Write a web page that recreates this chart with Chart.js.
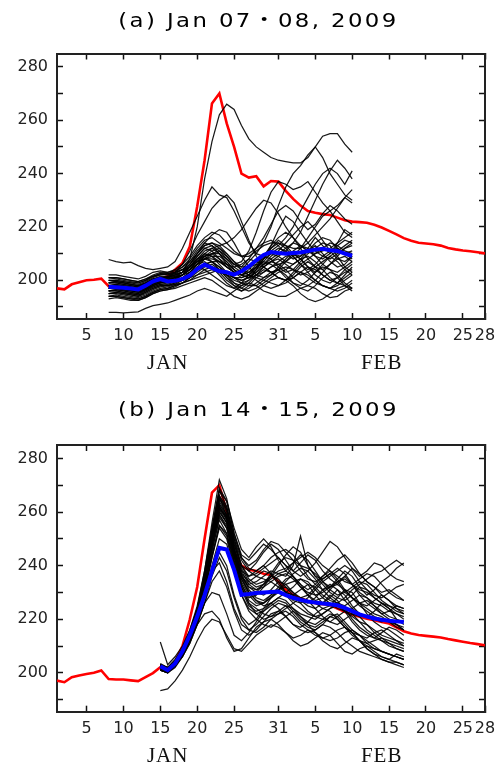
<!DOCTYPE html>
<html>
<head>
<meta charset="utf-8">
<script src="https://cdn.jsdelivr.net/npm/chart.js@4.4.1/dist/chart.umd.min.js"></script>
<style>
  body { margin: 0; background: #fff; }
  canvas { display: block; }
</style>
</head>
<body>
<canvas id="chart-a" width="499" height="375"></canvas>
<canvas id="chart-b" width="499" height="389"></canvas>
<script>
// day numbers count from Jan 1 (= 1), Feb 28 = 59
const titles = ['(a) Jan 07・08, 2009', '(b) Jan 14・15, 2009'];

const xTickDays = [5, 10, 15, 20, 25, 31, 36, 41, 46, 51, 56, 59];
const xTickLabels = ['5', '10', '15', '20', '25', '31', '5', '10', '15', '20', '25', '28'];
const yTickValues = [190, 200, 210, 220, 230, 240, 250, 260, 270, 280];
const yLabelValues = [200, 220, 240, 260, 280];
const monthNames = ['JAN', 'FEB'];
const monthDays = [16, 45];

const analysisStart = 1;
const forecastStartA = 8;
const forecastStartB = 15;

// red line: analysis, Jan 1 .. Feb 28
const analysisA = [
  197.0, 196.6, 198.5, 199.3, 200.0, 200.2, 200.6, 197.8, 197.5, 197.2,
  197.0, 196.8, 198.5, 200.0, 200.5, 201.5, 204.0, 206.5, 212.7, 227.7,
  245.0, 266.3, 270.0, 258.8, 250.0, 240.0, 238.5, 239.0, 235.2, 237.2,
  237.0, 233.5, 230.5, 228.0, 226.0, 225.3, 224.8, 224.5, 223.5, 222.5,
  222.0, 221.8, 221.6, 220.8, 219.8, 218.5, 217.2, 215.8, 214.8, 214.1,
  213.8, 213.5, 213.0, 212.1, 211.6, 211.2, 210.9, 210.5, 210.1
];
const analysisB = [
  197.1, 196.5, 198.4, 199.0, 199.6, 200.0, 200.9, 197.7, 197.5, 197.5,
  197.2, 196.9, 198.4, 199.9, 202.1, 201.0, 204.0, 210.0, 220.0, 232.0,
  250.0, 267.2, 270.0, 260.0, 245.0, 240.0, 238.5, 238.0, 237.0, 236.5,
  234.0, 231.0, 229.0, 227.8, 226.8, 226.0, 225.6, 225.3, 224.0, 222.8,
  221.8, 220.9, 220.2, 219.6, 219.0, 218.4, 217.0, 215.5, 214.7, 214.1,
  213.8, 213.5, 213.2, 212.6, 212.1, 211.6, 211.1, 210.7, 210.3
];

// blue line: ensemble mean
const meanA = [
  197.6, 197.4, 197.2, 196.9, 196.6, 198.0, 199.6, 200.5, 199.6, 199.8,
  200.5, 201.8, 204.2, 205.9, 204.6, 203.4, 203.0, 202.1, 203.4, 205.2,
  207.5, 209.5, 210.6, 210.2, 210.0, 210.2, 210.4, 211.0, 211.5, 211.8,
  211.3, 211.0, 210.0, 209.2
];
const meanB = [
  202.5, 201.0, 203.5, 208.0, 214.0, 221.0, 229.0, 238.0, 246.6, 246.0,
  238.4, 229.1, 229.4, 229.8, 230.0, 230.2, 230.3, 229.0, 228.0, 227.2,
  226.6, 226.2, 225.9, 225.6, 225.2, 224.2, 223.0, 221.8, 221.0, 220.3,
  219.8, 219.4, 219.2, 219.0
];

// black lines: ensemble members, Jan 8 .. Feb 10
const membersA = [
  [200,199.5,199,198.5,198,199,200,201,201.5,202, 203,208,220,238,252,262,266,264,258,253, 250,248,246,245,244.5,244,244,246,250,254, 255,255,251,248],
  [207.8,207,206.5,206.8,205.5,204.5,204,204.5,205,207, 212,218,224,230,235,232,231,226,220,214, 210,209,212,215,213,210,209,212,216,213, 210,214,219,217],
  [188,188,187.8,188,188.2,189.5,190.5,191,191.5,192.5, 193.5,194.5,196,197,196,195,194,196,198,199, 198,196,195,194,194,195.5,197,198,197,195, 193.5,194,196,197],
  [198,198.5,198,197.5,197,198,199.5,200,201,203, 206,211,217,222,227,230,232,229,222,215, 209,205,203,204,207,210,208,205,203,206, 209,207,204,202],
  [196,196.5,196,195.5,195,196.5,198,199,199.5,200, 202,204,207,210,209,207,205,203,204,207, 210,214,220,228,235,240,243,247,250,246, 240,236,232,230],
  [199,199,198.5,198,197.5,199,200.5,201,201,202, 203,205,208,211,212,210,207,204,202,203, 206,209,211,213,216,220,226,231,236,240, 242,240,236,241],
  [197,197.5,197,196.5,196,197,199,200,200.5,201, 202,205,209,212,213,211,208,206,207,211, 218,226,233,237,236,234,235,237,233,229, 226,228,231,229],
  [195,195.5,195,194.5,194,195.5,197,198,198,199, 200,202,205,208,210,211,209,206,205,208, 212,216,221,226,228,226,222,219,221,225, 228,226,223,221],
  [198,198,197.5,197,196.5,198,200,200.5,200,201, 202,203,206,209,210,208,206,205,206,208, 207,206,207,209,211,214,218,224,230,236, 241,245,242,238],
  [201,201,200.5,200,199.5,200.5,201.5,202,202,203, 205,207,210,213,214,212,209,206,204,203, 205,208,210,209,207,206,208,211,213,210, 207,205,206,209],
  [196,196,195.5,195,194.5,196,197.5,198.5,198,198.5, 199,200,202,204,205,204,202,200,199,200, 202,204,203,201,200,202,205,207,205,202, 200,201,203,204],
  [199,199.5,199,198.5,198,199,200.5,201.5,201,202, 203,205,208,209,207,204,201,199,198,200, 204,208,212,214,212,209,206,204,206,209, 211,212,210,208],
  [194,194,193.5,193,193,194,195.5,196.5,197,198, 199,201,203,205,206,204,201,198,196,197, 199,201,203,204,202,199,197,196,198,201, 203,202,199,197],
  [200,200,199.5,199,198.5,199.5,201,202,202.5,203, 204,206,209,212,211,208,205,203,202,204, 207,209,208,205,203,204,207,210,212,214, 213,209,205,203],
  [197,197,196.5,196,195.5,196.5,198,199,199.5,200.5, 202,204,206,207,205,202,199,197,196,198, 201,203,205,207,209,210,208,205,202,200, 199,201,204,206],
  [195,195.5,195,194.5,194,195,196.5,197.5,198,199, 201,203,205,204,202,200,198,197,199,202, 205,207,206,204,201,199,198,200,203,205, 204,201,198,197],
  [198,198,197.5,197,196.5,197.5,199,200,200.5,201.5, 203,206,210,213,214,213,210,207,205,205, 206,205,203,201,200,201,203,205,204,202, 200,199,201,203],
  [193,193.5,193,192.5,192.5,193.5,195,196,196.5,197, 198,199,200,201,200,198,196,194,193,194, 196,198,200,201,200,198,195,193,192,193, 195,197,198,196],
  [202,202,201.5,201,200.5,201.5,203,203.5,203,203.5, 205,208,212,215,216,214,212,210,209,210, 212,214,215,213,210,208,209,211,214,216, 215,212,210,211],
  [196,196.5,196,195.5,195,196,197.5,198.5,199,199.5, 200,201,202,203,204,203,202,201,201,202, 204,206,208,210,212,214,213,211,209,208, 210,213,215,214],
  [199,199,198.5,198,197.5,198.5,200,201,201,201.5, 202,204,207,209,210,210,208,205,203,202, 201,200,199,198,199,201,203,202,200,198, 197,198,200,202],
  [197,197,196.5,196,196,197,198.5,199.5,200,201, 202,205,208,210,209,206,203,201,200,201, 203,205,207,208,206,204,202,203,205,207, 209,211,213,215],
  [194,194.5,194,193.5,193,194,195.5,196.5,197,198, 199,200,201,202,203,204,203,201,199,198, 198,200,202,204,205,204,203,201,199,198, 197,196,197,199],
  [201,200.5,200,199.5,199,200,201.5,202.5,202.5,203, 204,205,207,208,207,205,203,201,200,201, 204,208,213,219,224,222,218,214,211,209, 208,210,212,213],
  [198,198,197.5,197,196.5,197.5,199,199.5,199,199.5, 200,202,204,206,207,207,206,204,202,201, 202,203,205,206,207,209,212,216,220,224, 226,222,218,216],
  [199,199.5,199,198.5,198,199,200.5,201,201.5,202.5, 204,207,211,214,213,210,206,203,201,202, 205,209,213,216,218,216,212,208,205,204, 206,209,212,214],
  [195,195,194.5,194,193.5,194.5,196,197,197.5,198.5, 200,202,204,206,207,205,202,199,197,196, 197,199,201,203,204,206,208,209,207,204, 201,199,198,200],
  [197,197.5,197,196.5,196,197,198.5,199.5,200,201, 203,206,210,214,217,219,218,214,209,205, 202,201,202,205,208,211,213,212,209,206, 204,203,205,207],
  [200,200,199.5,199,199,200,201.5,202.5,202,202.5, 203,204,206,208,209,209,207,204,202,201, 203,206,209,211,214,217,220,222,219,215, 211,208,207,209],
  [196,196,195.5,195,194.5,195.5,197,198,198.5,199.5, 201,203,206,209,211,212,210,207,204,202, 200,198,197,198,200,203,206,208,210,211, 212,214,216,218],
  [198,198.5,198,197.5,197,198,199.5,200.5,201,202, 203,205,207,208,208,207,205,203,202,203, 205,207,210,212,211,209,206,203,200,198, 197,199,202,205],
  [194,194,193.5,193,192.5,193.5,195,196,196.5,197.5, 199,201,204,206,205,203,200,198,197,199, 202,205,207,206,204,201,199,198,200,203, 206,208,209,207],
  [201,201,200.5,200,199.5,200.5,202,203,203,204, 206,209,213,216,218,217,214,211,209,209, 211,213,214,214,213,212,212,214,217,220, 223,227,231,234],
  [197,197,196.5,196,195.5,196.5,198,199,199.5,200.5, 202,204,207,210,212,213,214,216,219,223, 227,230,229,225,220,216,213,211,210,212, 214,213,211,210]
];

// black lines: ensemble members, Jan 15 .. Feb 17
const membersB = [
  [211.5,203,206,210,216,224,234,248,262,258, 246,238,236,238,240,237,233,230,232,235, 233,229,226,228,231,229,225,222,221,223, 226,224,220,218],
  [193.4,194,197,201,206,212,217,220,219,214, 209,208,211,214,216,218,217,215,213,214, 216,215,212,210,209,211,213,212,209,207, 206,205,204,203],
  [202,201,204,209,215,224,238,256,272,265, 252,244,242,245,248,246,243,240,238,241, 244,242,238,235,233,236,239,237,234,232, 230,231,229,227],
  [203,201.5,204,208,214,222,235,252,268,262, 250,240,236,237,239,241,243,240,236,233, 231,233,236,238,235,231,228,226,225,227, 229,227,224,222],
  [201,200,203,207,213,221,233,249,265,260, 248,239,234,232,233,235,237,238,236,232, 229,227,228,231,234,236,233,229,226,224, 222,223,225,224],
  [202,201,203.5,207,212,218,222,223,220,213, 208,209,213,217,219,220,218,215,212,210, 211,213,215,214,211,208,207,209,210,208, 206,205,207,206],
  [203,201,204,208,213,220,229,238,241,234, 224,218,216,218,221,224,226,225,222,219, 217,216,218,221,222,219,216,214,213,215, 216,214,212,211],
  [202.5,201,203,208,214,223,236,253,266,258, 245,236,232,230,229,231,234,233,230,228, 229,232,235,237,234,230,228,226,224,222, 221,219,218,216],
  [201.5,200.5,203,207,213,221,232,247,260,256, 244,233,228,229,232,236,240,244,247,245, 240,236,233,230,228,227,229,232,231,228, 226,224,222,221],
  [203.5,202,205,209,215,223,235,250,263,259, 248,240,238,241,245,248,246,242,238,236, 238,241,245,249,247,243,239,236,238,241, 240,237,235,234],
  [202,200.5,203,207,212,219,226,230,229,222, 214,212,215,219,223,226,224,221,218,217, 219,222,224,223,220,217,215,214,212,210, 208,207,206,205],
  [201,200,202.5,206,212,220,231,245,258,254, 243,235,230,227,225,226,228,230,229,226, 223,221,222,224,226,224,220,217,215,213, 212,211,210,209],
  [203,202,204.5,209,216,225,238,254,268,264, 254,246,243,247,250,247,242,238,241,244, 242,238,234,232,235,238,236,232,229,231, 234,236,239,241],
  [202,201,203,207,213,220,229,240,250,248, 238,229,224,222,223,225,227,226,223,220, 218,217,219,221,220,217,214,212,211,212, 213,211,209,208],
  [202.5,201.5,204,208,214,222,233,248,262,257, 244,233,227,225,226,229,232,235,236,233, 229,226,224,225,228,231,230,226,222,219, 217,216,214,212],
  [201.5,200.5,203,207,212,219,228,238,245,240, 229,221,218,220,224,228,231,232,230,227, 225,224,226,229,227,223,219,216,214,213, 215,217,216,214],
  [203,202,204,208,215,224,236,252,266,261, 249,240,235,233,234,236,238,239,241,243, 245,243,240,238,236,234,233,235,237,236, 233,230,228,227],
  [202,200.5,203,207,213,221,231,244,255,251, 240,231,225,223,224,226,228,227,224,222, 221,220,222,224,225,223,221,219,218,216, 214,213,212,210],
  [201,200,202,206,211,218,226,234,238,232, 223,216,214,216,219,222,223,221,218,216, 215,216,218,217,215,212,210,208,207,206, 205,204,203,202],
  [203,201.5,204,209,215,223,235,251,264,259, 247,238,233,231,233,237,241,243,242,238, 235,234,236,239,242,244,241,237,234,232, 229,227,225,224],
  [202.5,201,203.5,208,214,222,234,249,261,258, 246,237,231,228,227,229,231,233,234,235, 234,231,228,226,224,223,224,226,227,225, 223,221,220,219],
  [202,201,203,207,213,221,232,246,257,252, 241,232,226,224,222,221,222,224,226,228, 227,224,221,219,218,220,222,221,218,215, 213,212,211,210],
  [202,200.5,203,207,213,221,233,248,259,255, 244,236,233,234,236,238,237,236,240,251, 240,236,235,237,239,237,233,230,228,226, 225,223,222,220],
  [203,201.5,204,208,214,223,235,251,265,261, 250,242,238,236,235,234,232,230,229,231, 233,232,229,227,226,228,231,233,235,237, 238,240,242,240],
  [201.5,200,202.5,206.5,212,220,230,243,254,250, 239,229,223,220,218,217,219,221,223,221, 218,215,213,212,213,215,216,214,211,209, 208,207,206,205],
  [202,201,203.5,208,214,222,234,250,263,258, 246,236,230,227,226,228,230,229,226,224, 222,221,220,219,221,223,222,219,216,214, 212,210,209,208],
  [202,201,203.5,208,214,223,235,251,266,262, 251,243,239,238,240,243,245,246,244,240, 236,233,231,232,234,235,233,231,230,228, 226,225,223,222],
  [201.5,200.5,203,207,213,221,232,247,259,254, 242,232,226,222,220,221,223,225,224,221, 219,218,220,222,221,218,215,212,210,209, 208,207,206,205],
  [203,202,204,208,214,222,233,248,261,256, 244,235,230,230,233,236,235,232,229,227, 226,228,231,233,231,227,224,222,221,220, 219,220,218,216],
  [202,200.5,203,207,212,220,230,243,255,252, 242,234,229,226,226,228,231,234,237,239, 238,235,231,228,226,225,227,229,228,225, 222,220,218,217],
  [202.5,201.5,204,209,215,224,237,254,269,264, 252,243,240,242,246,249,248,245,242,240, 239,237,234,231,229,230,232,234,233,230, 227,225,224,223],
  [201,200,202.5,206,211,218,226,236,243,238, 228,220,216,215,217,220,222,223,221,218, 216,214,213,214,216,217,215,212,209,207, 205,204,204,203],
  [202,201,203.5,208,214,222,234,250,262,257, 245,236,232,231,232,234,236,237,235,232, 230,229,230,232,233,231,228,225,223,221, 220,219,217,216],
  [203,201.5,204,208,214,222,234,249,260,256, 245,237,234,236,238,237,234,230,227,226, 228,231,234,236,238,240,238,234,231,229, 228,230,232,233]
];


const toPoints = (startDay, values) => values.map((v, i) => ({x: startDay + i, y: v}));

// panel title, drawn by hand so it can be stretched like the original font
const panelTitlePlugin = {
    id: 'panelTitle',
    afterDraw(chart, args, opts) {
        const ctx = chart.ctx;
        ctx.save();
        ctx.font = '19px "DejaVu Sans", "Noto Sans CJK JP", sans-serif';
        ctx.letterSpacing = '2px';
        ctx.fillStyle = '#000';
        ctx.textAlign = 'center';
        ctx.textBaseline = 'middle';
        ctx.translate(chart.width / 2 + 9, opts.y);
        ctx.scale(1.2, 1);
        ctx.fillText(opts.text, 0, 0);
        ctx.restore();
    }
};

const monthLabelPlugin = {
    id: 'monthLabels',
    afterDraw(chart) {
        const {ctx, chartArea, scales} = chart;
        ctx.save();
        ctx.font = '21px "Liberation Serif", serif';
        ctx.letterSpacing = '1px';
        ctx.fillStyle = '#111';
        ctx.textAlign = 'center';
        ctx.textBaseline = 'middle';
        monthNames.forEach((name, i) => {
            ctx.fillText(name, scales.x.getPixelForValue(monthDays[i]), chartArea.bottom + 44.5);
        });
        ctx.restore();
    }
};

const frameGrid = {
    drawOnChartArea: false,
    drawTicks: true,
    tickLength: -6,
    tickColor: '#111',
    tickWidth: 1.5
};
const frameBorder = {display: true, color: '#222', width: 2};
const tickFont = {family: '"DejaVu Sans", sans-serif', size: 16};

const makeChart = (canvasId, title, analysis, mean, members, forecastStart, titleY, topPad, bottomHeight) => {
    const datasets = [];

    datasets.push({
        data: toPoints(forecastStart, mean),
        borderColor: '#0000ff',
        borderWidth: 4
    });
    members.forEach(m => {
        datasets.push({
            data: toPoints(forecastStart, m),
            borderColor: 'rgba(0,0,0,0.9)',
            borderWidth: 1.25
        });
    });
    datasets.push({
        data: toPoints(analysisStart, analysis),
        borderColor: '#ff0000',
        borderWidth: 2.6
    });

    return new Chart(document.getElementById(canvasId), {
        type: 'line',
        data: {datasets},
        plugins: [monthLabelPlugin, panelTitlePlugin],
        options: {
            responsive: false,
            animation: false,
            devicePixelRatio: 1,
            elements: {point: {radius: 0}, line: {tension: 0}},
            layout: {padding: {left: 0, right: 14, top: topPad, bottom: 0}},
            plugins: {
                legend: {display: false},
                tooltip: {enabled: false},
                title: {display: false},
                panelTitle: {text: title, y: titleY}
            },
            scales: {
                x: {
                    type: 'linear',
                    position: 'bottom',
                    min: 1,
                    max: 59,
                    grid: frameGrid,
                    border: frameBorder,
                    afterBuildTicks: s => { s.ticks = xTickDays.map(v => ({value: v})); },
                    afterFit: s => { s.height = bottomHeight; s.paddingLeft = 0; s.paddingRight = 0; },
                    ticks: {
                        autoSkip: false,
                        maxRotation: 0,
                        padding: 13.5,
                        color: '#222',
                        font: tickFont,
                        callback: (v) => xTickLabels[xTickDays.indexOf(v)]
                    }
                },
                x2: {
                    type: 'linear',
                    position: 'top',
                    min: 1,
                    max: 59,
                    grid: frameGrid,
                    border: frameBorder,
                    afterBuildTicks: s => { s.ticks = xTickDays.map(v => ({value: v})); },
                    afterFit: s => { s.height = 0; s.paddingLeft = 0; s.paddingRight = 0; },
                    ticks: {display: false}
                },
                y: {
                    type: 'linear',
                    position: 'left',
                    min: 185.5,
                    max: 285,
                    grid: frameGrid,
                    border: frameBorder,
                    afterBuildTicks: s => { s.ticks = yTickValues.map(v => ({value: v})); },
                    afterFit: s => { s.width = 57; s.paddingTop = 0; s.paddingBottom = 0; },
                    ticks: {
                        padding: 15,
                        color: '#222',
                        font: tickFont,
                        callback: (v) => yLabelValues.includes(v) ? String(v) : ''
                    }
                },
                y2: {
                    type: 'linear',
                    position: 'right',
                    min: 185.5,
                    max: 285,
                    grid: frameGrid,
                    border: frameBorder,
                    afterBuildTicks: s => { s.ticks = yTickValues.map(v => ({value: v})); },
                    afterFit: s => { s.width = 0; s.paddingTop = 0; s.paddingBottom = 0; },
                    ticks: {display: false}
                }
            }
        }
    });
};


makeChart('chart-a', titles[0], analysisA, meanA, membersA, forecastStartA, 22, 53.5, 56);
makeChart('chart-b', titles[1], analysisB, meanB, membersB, forecastStartB, 36, 70, 52.3);
</script>
</body>
</html>
